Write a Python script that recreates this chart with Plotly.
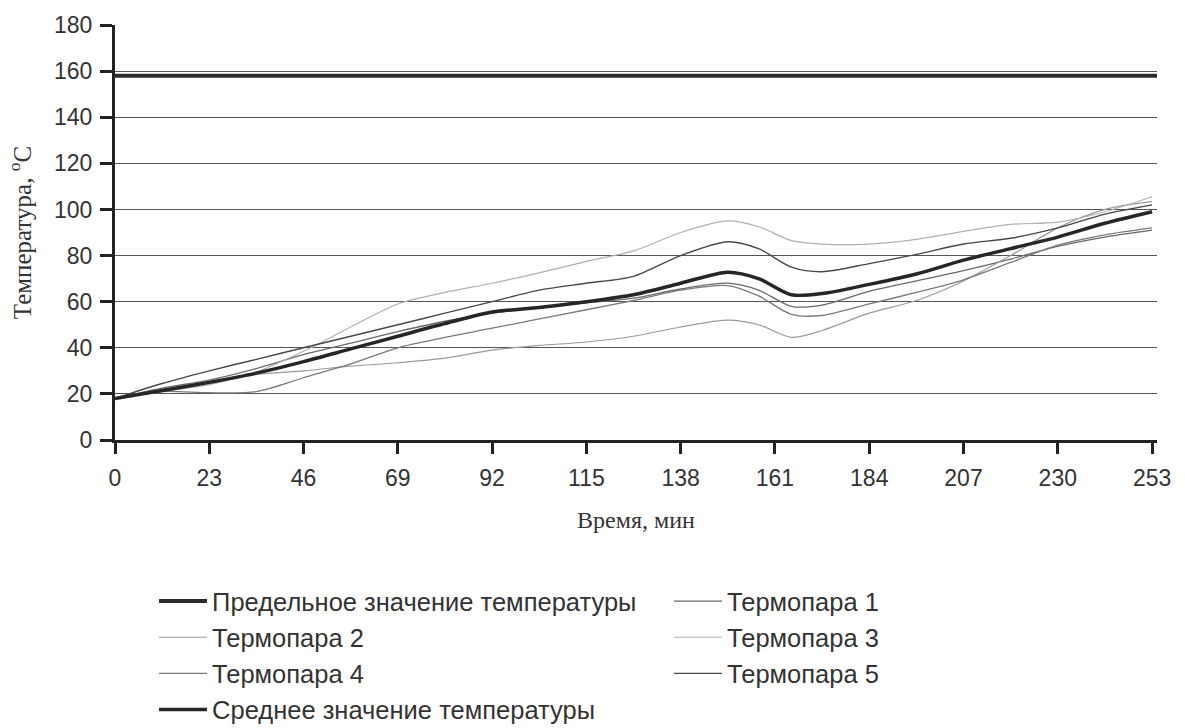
import plotly.graph_objects as go

# Time, min
time = [0, 11.5, 23, 34.5, 46, 57.5, 69, 80.5, 92, 103.5, 115, 126.5, 138,
        149.5, 157, 165, 172.5, 184, 195.5, 207, 218.5, 230, 241.5, 253]

# Temperature limit, °C
limit_value = 158

# Thermocouple readings, °C
tc1 = [18, 22.5, 26, 31, 37, 42, 47, 51.5, 55, 57.5, 59.5, 61.5, 65.5,
       68, 65, 58, 58.5, 64.5, 69, 73.5, 78.5, 84, 88, 91]
tc2 = [18, 21.5, 25, 28.5, 30, 32, 33.5, 35.5, 39, 41, 42.5, 45, 49,
       52, 50, 44.5, 47.5, 55, 60.5, 69, 80, 92, 100, 103.5]
tc3 = [18, 21, 24, 29.5, 38.5, 49, 59, 64, 68, 72.5, 77.5, 82, 90,
       95, 92.5, 86.5, 85, 85, 87, 90.5, 93.5, 94.5, 99, 105.5]
tc4 = [18, 21, 20.5, 21, 27, 33, 40, 44.5, 48.5, 52.5, 56.5, 60.5, 65,
       67, 62.5, 54.5, 54, 59, 64, 69.5, 77, 84.5, 89, 92]
tc5 = [18, 24.5, 30, 35, 40, 45, 50, 55, 60, 65, 68, 71, 80,
       86, 83, 75, 73, 76.5, 80.5, 85, 87.5, 92, 98, 102]
mean_t = [18, 21.5, 25, 29, 34, 39.5, 45, 50.5, 55.5, 57.5, 60, 63, 68,
          72.8, 70, 63, 63.5, 67.5, 72, 78, 83, 88, 94, 99]

x_ticks = [0, 23, 46, 69, 92, 115, 138, 161, 184, 207, 230, 253]
y_ticks = [0, 20, 40, 60, 80, 100, 120, 140, 160, 180]

SANS = "Liberation Sans, Arial, sans-serif"
SERIF = "Liberation Serif, Times New Roman, serif"
TEXT = "#333333"

fig = go.Figure()

fig.add_trace(go.Scatter(
    x=[time[0], time[-1] * 1.005], y=[limit_value, limit_value],
    mode="lines", name="Предельное значение температуры",
    line=dict(color="#2b2b2b", width=4)))

series = [
    ("Термопара 1", tc1, "#6a6a6a", 1.3),
    ("Термопара 2", tc2, "#9a9a9a", 1.2),
    ("Термопара 3", tc3, "#b0b0b0", 1.2),
    ("Термопара 4", tc4, "#7a7a7a", 1.3),
    ("Термопара 5", tc5, "#484848", 1.4),
]
for name, vals, color, width in series:
    fig.add_trace(go.Scatter(
        x=time, y=vals, mode="lines", name=name,
        line=dict(color=color, width=width, shape="spline", smoothing=0.8)))

fig.add_trace(go.Scatter(
    x=time, y=mean_t, mode="lines", name="Среднее значение температуры",
    line=dict(color="#262626", width=3.5, shape="spline", smoothing=0.8)))

fig.update_layout(
    width=1185, height=728,
    margin=dict(l=115, r=28, t=20, b=288),
    paper_bgcolor="white", plot_bgcolor="white",
    font=dict(family=SANS, color=TEXT, size=22),
    showlegend=True,
    legend=dict(
        orientation="h",
        xref="container", yref="container",
        x=0.130, y=1 - 578 / 728, xanchor="left", yanchor="top",
        entrywidth=452, entrywidthmode="pixels",
        font=dict(family=SANS, size=25.5, color=TEXT),
        itemwidth=48,
        traceorder="normal",
        bgcolor="rgba(0,0,0,0)",
    ),
)

fig.update_xaxes(
    range=[0, 254.2], tickvals=x_ticks, ticktext=[str(v) for v in x_ticks],
    showgrid=False, zeroline=False,
    showline=True, linecolor="#222222", linewidth=3,
    ticks="outside", ticklen=11, tickwidth=3, tickcolor="#222222",
    ticklabelstandoff=4,
    tickfont=dict(family=SANS, size=23, color=TEXT),
    title=dict(text="Время, мин", standoff=22,
               font=dict(family=SERIF, size=24, color=TEXT)),
)

fig.update_yaxes(
    range=[0, 180], tickvals=y_ticks,
    showgrid=True, gridcolor="#555555", gridwidth=1.2,
    zeroline=False,
    showline=True, linecolor="#222222", linewidth=3,
    ticks="outside", ticklen=12, tickwidth=3, tickcolor="#222222",
    ticklabelstandoff=3,
    tickfont=dict(family=SANS, size=23, color=TEXT),
    title=dict(text="Температура, <sup>o</sup>C", standoff=16,
               font=dict(family=SERIF, size=25, color=TEXT)),
)

fig.write_html("out.html")
